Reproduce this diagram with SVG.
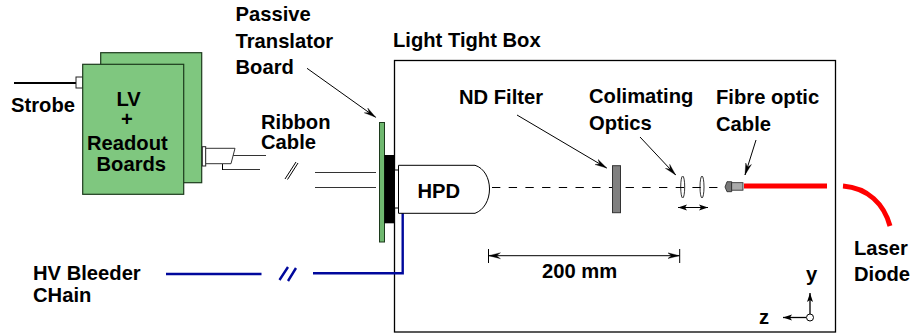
<svg xmlns="http://www.w3.org/2000/svg" width="912" height="335" viewBox="0 0 912 335">
<defs>
<marker id="ah" markerUnits="userSpaceOnUse" markerWidth="14" markerHeight="10" refX="12" refY="5" orient="auto-start-reverse"><path d="M0,2 L12,5 L0,8 L4,5 Z" fill="#000" stroke="#000" stroke-width="0.300"/></marker>
<marker id="as" markerUnits="userSpaceOnUse" markerWidth="10" markerHeight="8" refX="9" refY="4" orient="auto-start-reverse"><path d="M0,1 L9,4 L0,7 L2,4 Z" fill="#000"/></marker>
</defs>
<style>
text{font-family:"Liberation Sans",Arial,sans-serif;font-weight:bold;font-size:20.200px;fill:#000}
.g{fill:#7fc77f;stroke:#1c3a1c;stroke-width:1.2}
.l{fill:none;stroke:#000;stroke-width:1}
.gl{fill:none;stroke:#333;stroke-width:1}
.b{fill:none;stroke:#00089c;stroke-width:2.4}
.r{fill:none;stroke:#f00;stroke-width:5}
.a{fill:none;stroke:#000;stroke-width:1;marker-end:url(#ah)}
</style>
<g id="box"><rect x="394.500" y="60.500" width="441" height="271.500" fill="none" stroke="#000" stroke-width="1.300"/></g>
<g id="connectors">
<path d="M14,83 H76" fill="none" stroke="#000" stroke-width="2"/>
<path class="gl" d="M233,155.500 H266 M222,169.500 H260 M315,172.500 H376 M315,187.500 H376"/>
<path class="l" d="M222.500,164 V170"/>
<path class="l" d="M285,179 L296,162 M287.500,179.500 L298,163"/>
<path class="b" d="M166,274 H261.500 M313,273.300 H402.700 V213"/>
<path class="b" d="M279.500,280 L288,267 M288,281 L296,268"/>
<path class="l" d="M492,187.500 H718" stroke-dasharray="8.350 8.350"/>
<path class="a" d="M307,68.300 L375.700,117.300"/>
<path class="a" d="M517,115 L606.700,168"/>
<path class="a" d="M640,137 L675.700,175"/>
<path class="a" d="M756,140 L745,175"/>
<path d="M678,207.500 H708" fill="none" stroke="#000" stroke-width="1" marker-start="url(#as)" marker-end="url(#as)"/>
<path d="M488.500,255.700 H679.500" fill="none" stroke="#000" stroke-width="1" marker-start="url(#ah)" marker-end="url(#ah)"/>
<path class="l" d="M488.500,249 V263 M679.700,249 V263"/>
<path class="r" d="M744,186 H827"/>
<path class="r" d="M843,186 C868,188 884,204 890,226"/>
<path d="M810,314 V293" fill="none" stroke="#000" stroke-width="1.300" marker-end="url(#as)"/>
<path d="M806,317.500 H783" fill="none" stroke="#000" stroke-width="1.300" marker-end="url(#as)"/>
</g>
<g id="lv-boards">
<rect x="76" y="77" width="7" height="11" fill="#fff" stroke="#222"/>
<rect class="g" x="100.700" y="52.700" width="101" height="130"/>
<rect class="g" x="82.700" y="64.300" width="101" height="130"/>
<rect x="202.300" y="146.700" width="3.400" height="19.300" fill="#fff" stroke="#222"/>
<path d="M205.700,148.300 H235 L231,163.700 H205.700 Z" fill="#fff" stroke="#333"/>
<text x="116.500" y="106">LV</text>
<text x="121" y="126">+</text>
<text x="87" y="150">Readout</text>
<text x="96.500" y="171">Boards</text>
</g>
<g id="strobe"><text x="11" y="112">Strobe</text></g>
<g id="translator">
<rect x="379.500" y="122.500" width="5" height="119.500" fill="#6fb86f" stroke="#1c3a1c"/>
<rect x="384.300" y="155" width="10" height="68.300" fill="#000"/>
<text x="235.500" y="21">Passive</text>
<text x="235.500" y="48">Translator</text>
<text x="235.500" y="74">Board</text>
</g>
<g id="ribbon"><text x="261" y="128.500">Ribbon</text><text x="261" y="149">Cable</text></g>
<g id="hpd">
<rect x="394.500" y="170" width="4" height="38" fill="#fff" stroke="#000"/>
<path d="M398.500,165.300 H475 C484,168 489.500,178 489.500,189 C489.500,200 484,210 475,213.300 H398.500 Z" fill="#fff" stroke="#000"/>
<text x="417.500" y="198">HPD</text>
</g>
<g id="hv"><text x="33" y="280">HV Bleeder</text><text x="33" y="301.500">CHain</text></g>
<g id="labels-box">
<text x="393" y="47">Light Tight Box</text>
<text x="459" y="104">ND Filter</text>
<text x="589" y="103">Colimating</text>
<text x="589" y="130">Optics</text>
<text x="716" y="104">Fibre optic</text>
<text x="716" y="131">Cable</text>
<text x="542" y="278.300">200 mm</text>
</g>
<g id="nd-filter"><rect x="612.500" y="165.700" width="8" height="47" fill="#808080" stroke="#333"/></g>
<g id="lenses">
<ellipse cx="682.700" cy="187" rx="2" ry="11" fill="none" stroke="#000" stroke-width="0.800"/>
<ellipse cx="702" cy="187" rx="2" ry="11" fill="none" stroke="#000" stroke-width="0.800"/>
</g>
<g id="fibre">
<path d="M727,181.700 H731.700 V191.700 H727 L725,187 Z" fill="#777" stroke="#222" stroke-width="0.800"/>
<rect x="731.700" y="182.700" width="11.300" height="7.500" fill="#aaa" stroke="#222" stroke-width="0.800"/>
</g>
<g id="laser"><text x="854" y="255">Laser</text><text x="854" y="281">Diode</text></g>
<g id="axes">
<circle cx="810" cy="317.500" r="3.500" fill="none" stroke="#000"/>
<text x="806" y="281">y</text>
<text x="759" y="324">z</text>
</g>
</svg>
